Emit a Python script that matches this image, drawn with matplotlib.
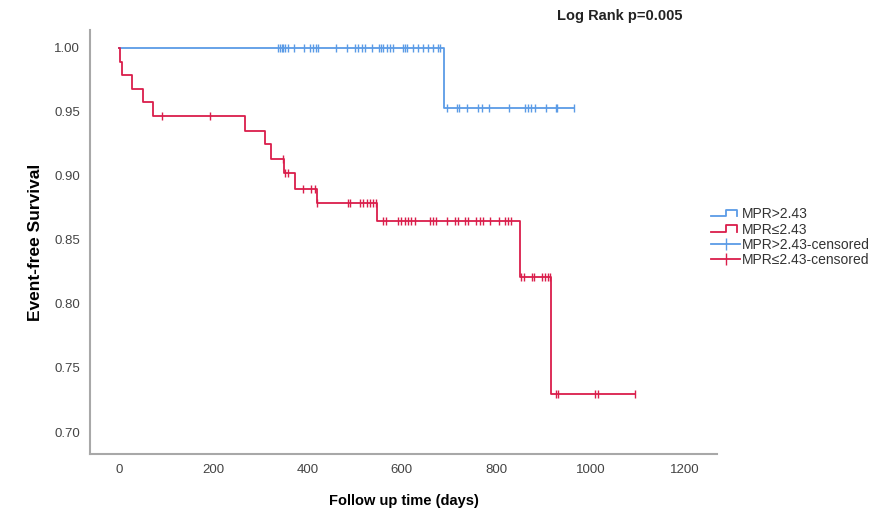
import numpy as np
import matplotlib
matplotlib.use("Agg")
import matplotlib.pyplot as plt
from matplotlib.lines import Line2D
from matplotlib.legend_handler import HandlerBase

plt.rcParams['font.family'] = ['Liberation Sans', 'DejaVu Sans']

# Kaplan-Meier step functions (day of step, survival after step)
hi_days = [0, 690, 965]
hi_surv = [1.0, 0.953, 0.953]
lo_days = [0, 2, 6, 29, 52, 73, 267, 309, 322, 350, 373, 421, 548, 851, 917, 1094]
lo_surv = [1.0, 0.989, 0.979, 0.968, 0.958, 0.947, 0.935, 0.925, 0.913, 0.902,
           0.890, 0.879, 0.865, 0.821, 0.730, 0.730]

# Censored observation times
hi_censor = [337, 341, 345, 348, 352, 358, 371, 392, 405, 411, 418, 422, 460, 483,
             500, 507, 515, 522, 536, 551, 556, 560, 568, 575, 581, 602, 607, 611,
             623, 634, 644, 655, 666, 676, 681,
             695, 717, 721, 738, 761, 770, 784, 827, 861, 867, 873, 882, 905, 926,
             929, 965]
lo_censor = [92, 193, 348, 353, 358, 391, 408, 415, 421, 485, 490, 511, 518, 526,
             532, 538, 546, 560, 567, 592, 599, 606, 613, 620, 627, 659, 666, 673,
             695, 712, 719, 733, 740, 758, 765, 773, 786, 805, 818, 825, 832, 853,
             859, 875, 880, 898, 903, 909, 914, 926, 931, 1009, 1015, 1094]

x_ticks = [0, 200, 400, 600, 800, 1000, 1200]
y_ticks = [0.70, 0.75, 0.80, 0.85, 0.90, 0.95, 1.00]
legend_labels = ['MPR>2.43', 'MPR\u22642.43', 'MPR>2.43-censored', 'MPR\u22642.43-censored']

BLUE = '#5B9BE6'
RED = '#DA1E4B'


def surv_at(t, days, surv):
    idx = np.searchsorted(days, t, side='right') - 1
    return np.asarray(surv)[idx]


fig = plt.figure(figsize=(8.92, 5.15), dpi=100)
ax = fig.add_axes([0.1009, 0.1184, 0.7029, 0.8233])

ax.step(hi_days, hi_surv, where='post', color=BLUE, lw=1.3)
ax.step(lo_days, lo_surv, where='post', color=RED, lw=1.3)
ax.plot(hi_censor, surv_at(hi_censor, hi_days, hi_surv), ls='none', marker='|',
        ms=5.5, mew=1.0, color=BLUE)
ax.plot(lo_censor, surv_at(lo_censor, lo_days, lo_surv), ls='none', marker='|',
        ms=5.5, mew=1.0, color=RED)

ax.set_xlim(-61, 1268)
ax.set_ylim(0.6828, 1.014)
ax.set_xticks(x_ticks)
ax.set_yticks(y_ticks)
ax.set_yticklabels([f'{v:.2f}' for v in y_ticks])
ax.tick_params(length=0, labelsize=9.5, colors='#444444', pad=7)
for s in ['top', 'right']:
    ax.spines[s].set_visible(False)
for s in ['left', 'bottom']:
    ax.spines[s].set_color('#A8A8A8')
    ax.spines[s].set_linewidth(1.5)

ax.set_xlabel('Follow up time (days)', fontsize=10.5, fontweight='bold', labelpad=13)
ax.set_ylabel('Event-free Survival', fontsize=12.5, fontweight='bold', labelpad=8)

fig.text(0.695, 0.968, 'Log Rank p=0.005', fontsize=10.5, fontweight='bold',
         ha='center', va='center', color='#222222')


class StepHandler(HandlerBase):
    def create_artists(self, legend, orig_handle, xdescent, ydescent, width,
                       height, fontsize, trans):
        x0, x1 = -xdescent, -xdescent + width
        yb, yt = -ydescent + height * 0.2, -ydescent + height * 0.85
        xm = x0 + width * 0.5
        xs = [x0, xm, xm, x1 - width * 0.1, x1 - width * 0.1]
        ys = [yb, yb, yt, yt, yb]
        ln = Line2D(xs, ys, color=orig_handle.get_color(), lw=1.3)
        ln.set_transform(trans)
        return [ln]


h1 = Line2D([], [], color=BLUE)
h2 = Line2D([], [], color=RED)
h3 = Line2D([], [], color=BLUE, lw=1.3, marker='|', ms=9, mew=1.0)
h4 = Line2D([], [], color=RED, lw=1.3, marker='|', ms=9, mew=1.0)
leg = fig.legend([h1, h2, h3, h4], legend_labels, loc='upper left',
                 bbox_to_anchor=(0.783, 0.622), frameon=False, fontsize=10,
                 handlelength=2.1, handletextpad=0.1, labelspacing=0.1,
                 handler_map={h1: StepHandler(), h2: StepHandler()})
for t in leg.get_texts():
    t.set_color('#333333')

fig.savefig('out.png', dpi=100)
